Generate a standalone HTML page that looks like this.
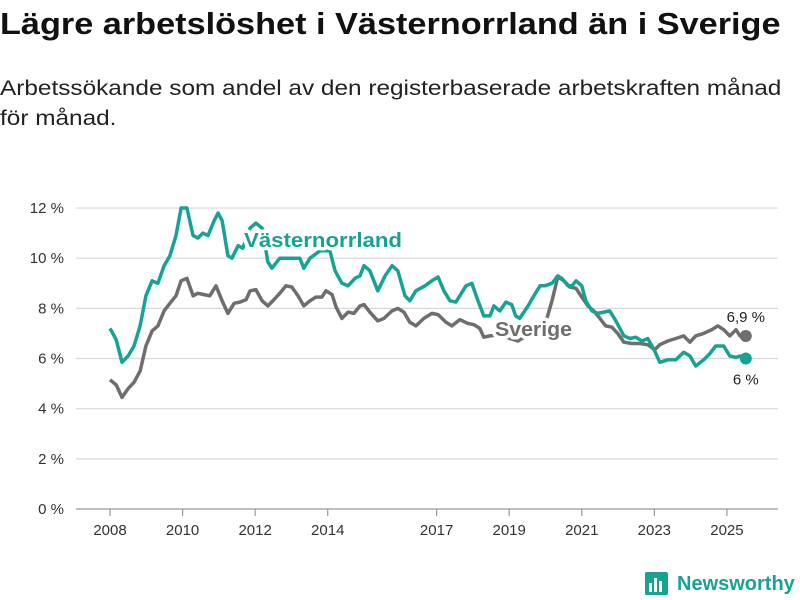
<!DOCTYPE html>
<html><head><meta charset="utf-8"><style>
body{margin:0;width:800px;height:600px;background:#fff;font-family:"Liberation Sans",sans-serif;overflow:hidden;position:relative}
h1{position:absolute;left:0;top:4px;margin:0;font-size:31px;line-height:40px;font-weight:bold;color:#111;white-space:nowrap;transform-origin:0 0;transform:scaleX(1.105)}
p{position:absolute;left:0;top:74px;margin:0;font-size:21px;line-height:30px;color:#222;white-space:nowrap;transform-origin:0 0;transform:scaleX(1.16)}
svg{position:absolute;left:0;top:0}
</style></head><body>
<h1>Lägre arbetslöshet i Västernorrland än i Sverige</h1>
<p>Arbetssökande som andel av den registerbaserade arbetskraften månad<br>för månad.</p>
<svg id="chart" width="800" height="600"></svg>
<script>
const yTicks=[0,2,4,6,8,10,12];
const yTickLabels=["0 %","2 %","4 %","6 %","8 %","10 %","12 %"];
const xTicks=[2008,2010,2012,2014,2017,2019,2021,2023,2025];
const xTickLabels=["2008","2010","2012","2014","2017","2019","2021","2023","2025"];
const datesV=[2008.00,2008.17,2008.33,2008.50,2008.66,2008.83,2008.99,2009.16,2009.32,2009.49,2009.65,2009.82,2009.96,2010.12,2010.29,2010.42,2010.56,2010.70,2010.87,2010.98,2011.09,2011.25,2011.36,2011.53,2011.66,2011.86,2012.02,2012.19,2012.35,2012.46,2012.68,2013.23,2013.34,2013.51,2013.79,2014.06,2014.20,2014.39,2014.56,2014.75,2014.89,2015.00,2015.16,2015.38,2015.58,2015.77,2015.93,2016.13,2016.26,2016.43,2016.68,2016.87,2017.04,2017.20,2017.37,2017.53,2017.64,2017.81,2017.97,2018.14,2018.30,2018.47,2018.58,2018.74,2018.91,2019.07,2019.18,2019.29,2019.52,2019.68,2019.85,2019.98,2020.18,2020.34,2020.45,2020.62,2020.73,2020.84,2021.00,2021.11,2021.28,2021.44,2021.61,2021.77,2021.94,2022.16,2022.33,2022.49,2022.66,2022.82,2023.01,2023.15,2023.37,2023.59,2023.81,2023.98,2024.14,2024.36,2024.53,2024.69,2024.91,2025.08,2025.25,2025.36,2025.52];
const valuesV=[7.2,6.75,5.85,6.1,6.5,7.3,8.5,9.1,9.0,9.7,10.1,10.9,12.0,12.0,10.9,10.8,11.0,10.9,11.5,11.8,11.5,10.1,10.0,10.5,10.4,11.2,11.4,11.2,9.85,9.6,10.0,10.0,9.6,10.0,10.3,10.3,9.5,9.0,8.9,9.2,9.3,9.7,9.5,8.7,9.3,9.7,9.5,8.5,8.3,8.7,8.9,9.1,9.25,8.7,8.3,8.25,8.5,8.9,9.0,8.3,7.7,7.7,8.1,7.9,8.25,8.15,7.7,7.6,8.1,8.5,8.9,8.9,9.0,9.3,9.2,8.9,8.9,9.1,8.9,8.3,7.9,7.8,7.85,7.9,7.5,6.9,6.8,6.85,6.7,6.8,6.3,5.85,5.95,5.95,6.25,6.1,5.7,5.95,6.2,6.5,6.5,6.1,6.05,6.1,6.0];
const datesS=[2008.00,2008.17,2008.33,2008.50,2008.66,2008.83,2008.99,2009.16,2009.32,2009.49,2009.65,2009.82,2009.96,2010.12,2010.29,2010.42,2010.59,2010.75,2010.92,2011.09,2011.25,2011.42,2011.58,2011.75,2011.86,2012.02,2012.19,2012.35,2012.52,2012.68,2012.85,2013.01,2013.18,2013.34,2013.51,2013.67,2013.84,2013.95,2014.12,2014.23,2014.39,2014.56,2014.72,2014.89,2015.00,2015.16,2015.38,2015.55,2015.77,2015.93,2016.10,2016.26,2016.43,2016.65,2016.87,2017.04,2017.26,2017.42,2017.64,2017.86,2018.03,2018.19,2018.30,2018.47,2018.74,2019.02,2019.24,2019.52,2019.85,2020.04,2020.18,2020.34,2020.51,2020.67,2020.84,2021.00,2021.17,2021.33,2021.50,2021.66,2021.83,2021.99,2022.16,2022.38,2022.60,2022.82,2023.01,2023.15,2023.37,2023.59,2023.81,2023.98,2024.14,2024.36,2024.58,2024.75,2024.91,2025.08,2025.25,2025.36,2025.52];
const valuesS=[5.15,4.95,4.45,4.8,5.05,5.5,6.5,7.1,7.3,7.9,8.2,8.5,9.1,9.2,8.5,8.6,8.55,8.5,8.9,8.3,7.8,8.2,8.25,8.35,8.7,8.75,8.3,8.1,8.35,8.6,8.9,8.85,8.5,8.1,8.3,8.45,8.45,8.7,8.55,8.05,7.6,7.85,7.8,8.1,8.15,7.85,7.5,7.6,7.9,8.0,7.85,7.45,7.3,7.6,7.8,7.75,7.45,7.3,7.55,7.4,7.35,7.2,6.85,6.9,6.95,6.8,6.7,6.95,7.35,7.6,8.3,9.25,9.1,8.85,8.8,8.45,8.1,7.9,7.6,7.3,7.25,7.0,6.65,6.6,6.6,6.55,6.35,6.55,6.7,6.8,6.9,6.65,6.9,7.0,7.15,7.3,7.15,6.9,7.15,6.9,6.9];
const NS="http://www.w3.org/2000/svg";
const svg=document.getElementById('chart');
const X=y=>110+(y-2008)*36.29;
const Y=v=>509-v*25.08;
function mk(tag,attrs,parent){const e=document.createElementNS(NS,tag);for(const k in attrs)e.setAttribute(k,attrs[k]);(parent||svg).appendChild(e);return e;}
yTicks.forEach((t,i)=>{
  const g=mk('line',{x1:76,x2:778,y1:Y(t),y2:Y(t),stroke:t===0?'#999':'#d9d9d9','stroke-width':1.2});
  
  
  const tx=mk('text',{x:64,y:Y(t)+5,'text-anchor':'end','font-size':15,fill:'#333','font-family':'Liberation Sans, sans-serif'});
  tx.textContent=yTickLabels[i];
  
  
});
xTicks.forEach((t,i)=>{
  const l=mk('line',{x1:X(t),x2:X(t),y1:509,y2:516,stroke:'#999','stroke-width':1.2});
  
  
  const tx=mk('text',{x:X(t),y:535,'text-anchor':'middle','font-size':15,fill:'#333','font-family':'Liberation Sans, sans-serif'});
  tx.textContent=xTickLabels[i];
  
  
});
function pathOf(d,v){return d.map((x,i)=>(i?'L':'M')+X(x).toFixed(1)+','+Y(v[i]).toFixed(1)).join('');}
const ps=mk('path',{d:pathOf(datesS,valuesS),fill:'none',stroke:'#6e6e70','stroke-width':3.5,'stroke-linejoin':'round'});


const pv=mk('path',{d:pathOf(datesV,valuesV),fill:'none',stroke:'#17a393','stroke-width':3.5,'stroke-linejoin':'round'});


const lv=mk('text',{x:244,y:247,'font-size':20,'font-weight':'bold',textLength:158,lengthAdjust:'spacingAndGlyphs',fill:'#17a393',stroke:'#fff','stroke-width':7,'paint-order':'stroke','stroke-linejoin':'round','font-family':'Liberation Sans, sans-serif'});
lv.textContent='Västernorrland';


const ls=mk('text',{x:495,y:336,'font-size':20,'font-weight':'bold',textLength:77,lengthAdjust:'spacingAndGlyphs',fill:'#6e6e70',stroke:'#fff','stroke-width':7,'paint-order':'stroke','stroke-linejoin':'round','font-family':'Liberation Sans, sans-serif'});
ls.textContent='Sverige';


const lastS=datesS.length-1,lastV=datesV.length-1;
const ds=mk('circle',{cx:X(datesS[lastS]),cy:Y(valuesS[lastS]),r:6,fill:'#6e6e70'});


const dv=mk('circle',{cx:X(datesV[lastV]),cy:Y(valuesV[lastV]),r:6,fill:'#17a393'});


const es=mk('text',{x:X(datesS[lastS]),y:Y(valuesS[lastS])-14,'text-anchor':'middle','font-size':15,fill:'#222','font-family':'Liberation Sans, sans-serif'});
es.textContent=String(valuesS[lastS]).replace('.',',')+' %';


const ev=mk('text',{x:X(datesV[lastV]),y:Y(valuesV[lastV])+26,'text-anchor':'middle','font-size':15,fill:'#222','font-family':'Liberation Sans, sans-serif'});
ev.textContent=String(Math.round(valuesV[lastV]*10)/10).replace('.',',')+' %';


const lg=mk('g',{});


mk('rect',{x:645,y:572,width:23,height:23,rx:2,fill:'#17a393'},lg);
mk('rect',{x:649,y:583,width:3,height:9,fill:'#fff'},lg);
mk('rect',{x:654,y:578,width:3,height:14,fill:'#fff'},lg);
mk('rect',{x:659,y:581,width:3,height:11,fill:'#fff'},lg);
const lt=mk('text',{x:677,y:590,'font-size':20,'font-weight':'bold',fill:'#17a393','font-family':'Liberation Sans, sans-serif'},lg);
lt.textContent='Newsworthy';
</script>
</body></html>
